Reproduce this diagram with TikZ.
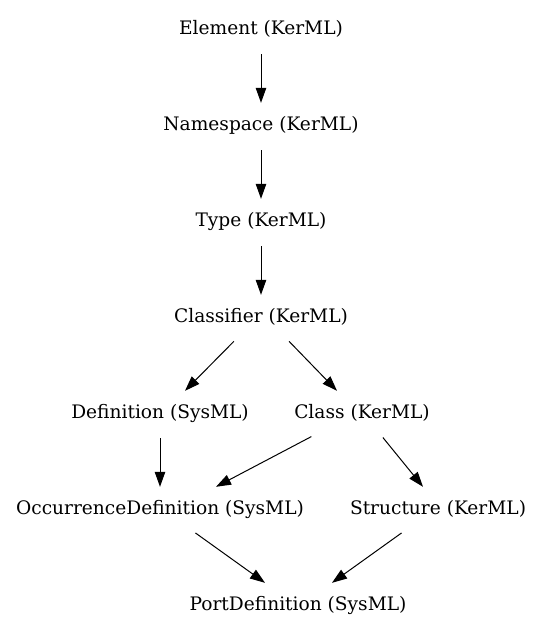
\documentclass[tikz,border=0pt]{standalone}
\usepackage{fontspec}
\setmainfont{DejaVu Serif}
\usetikzlibrary{arrows.meta}
\begin{document}
\begin{tikzpicture}[x=1pt,y=-1pt,
  lbl/.style={inner sep=0pt,minimum height=44pt,font=\fontsize{18.6}{20}\selectfont},
  edge/.style={draw,line width=1pt,-{Triangle[length=15pt,width=10.5pt]},shorten <=3pt}]
\useasboundingbox[fill=white] (0,0) rectangle (543,635);
\node[lbl] (el) at (261,29) {Element (KerML)};
\node[lbl] (ns) at (261,125) {Namespace (KerML)};
\node[lbl] (ty) at (261,221) {Type (KerML)};
\node[lbl] (cf) at (261,317) {Classifier (KerML)};
\node[lbl] (df) at (160,413) {Definition (SysML)};
\node[lbl] (cl) at (362,413) {Class (KerML)};
\node[lbl] (od) at (160,509) {OccurrenceDefinition (SysML)};
\node[lbl] (st) at (438,509) {Structure (KerML)};
\node[lbl] (pd) at (298,605) {PortDefinition (SysML)};
\draw[edge] (el) -- (ns);
\draw[edge] (ns) -- (ty);
\draw[edge] (ty) -- (cf);
\draw[edge] ([xshift=-25pt]cf.south) -- ([xshift=25pt]df.north);
\draw[edge] ([xshift=26pt]cf.south) -- ([xshift=-25pt]cl.north);
\draw[edge] (df.south) -- (od.north);
\draw[edge] ([xshift=-48pt]cl.south) -- ([xshift=56pt]od.north);
\draw[edge] ([xshift=19pt]cl.south) -- ([xshift=-15pt]st.north);
\draw[edge] ([xshift=33pt]od.south) -- ([xshift=-33pt]pd.north);
\draw[edge] ([xshift=-34pt]st.south) -- ([xshift=34pt]pd.north);
\end{tikzpicture}
\end{document}
